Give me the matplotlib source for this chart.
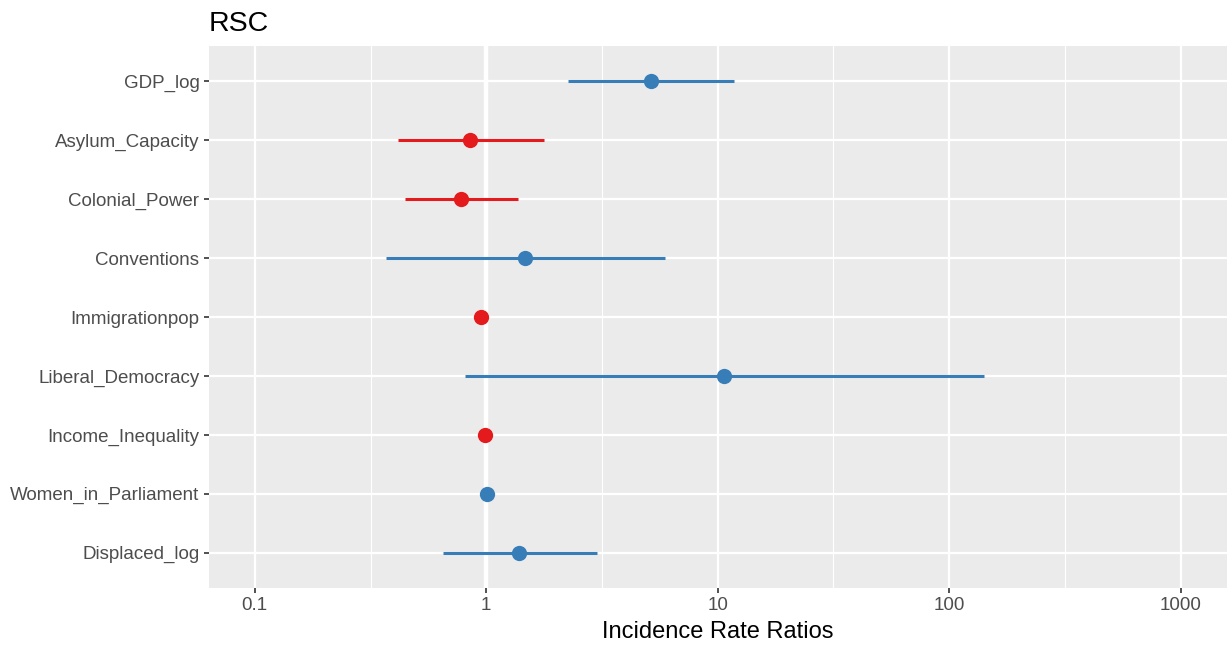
import numpy as np
import matplotlib.pyplot as plt
from matplotlib.ticker import FixedLocator, NullFormatter

# Estimates (incidence rate ratios) with 95% CI
terms = ["GDP_log", "Asylum_Capacity", "Colonial_Power", "Conventions",
         "Immigrationpop", "Liberal_Democracy", "Income_Inequality",
         "Women_in_Parliament", "Displaced_log"]
estimate = [5.17, 0.853, 0.78, 1.47, 0.95, 10.6, 0.99, 1.01, 1.39]
conf_low = [2.26, 0.417, 0.447, 0.37, 0.93, 0.81, 0.975, 0.995, 0.65]
conf_high = [11.8, 1.78, 1.37, 5.94, 0.97, 141.0, 1.005, 1.025, 3.02]

x_breaks = [0.1, 1, 10, 100, 1000]
x_labels = ["0.1", "1", "10", "100", "1000"]

BLUE = "#377EB8"
RED = "#E41A1C"
BG = "#EBEBEB"

plt.rcParams['font.family'] = ['Liberation Sans', 'DejaVu Sans']

fig = plt.figure(figsize=(12.27, 6.49), dpi=100)
W, H = 1227, 649
ax = fig.add_axes([208.5 / W, (H - 588) / H, (1227 - 208.5) / W, (588 - 46) / H])
ax.set_facecolor(BG)

ax.set_xscale("log")
ax.set_xlim(10 ** -1.2, 10 ** 3.2)
n = len(terms)
ypos = np.arange(n)[::-1]
ax.set_ylim(-0.6, n - 1 + 0.6)

# grid
ax.xaxis.set_major_locator(FixedLocator(x_breaks))
ax.xaxis.set_minor_locator(FixedLocator([10 ** (k + 0.5) for k in range(-1, 3)]))
ax.xaxis.set_minor_formatter(NullFormatter())
ax.set_xticklabels(x_labels)
ax.set_yticks(ypos)
ax.set_yticklabels(terms)
ax.grid(True, which="major", color="white", linewidth=1.6, zorder=0)
ax.grid(True, which="minor", axis="x", color="white", linewidth=0.8, zorder=0)
ax.set_axisbelow(True)
ax.axvline(1, color="white", linewidth=3.2, zorder=1)

for i in range(n):
    col = RED if estimate[i] < 1 else BLUE
    ax.plot([conf_low[i], conf_high[i]], [ypos[i], ypos[i]], color=col,
            linewidth=2.2, solid_capstyle="butt", zorder=3)
    ax.plot(estimate[i], ypos[i], "o", color=col, markersize=11,
            markeredgewidth=0, zorder=4)

for s in ax.spines.values():
    s.set_visible(False)

ax.tick_params(axis="both", which="major", length=3.5, width=1.2,
               color="#333333", labelcolor="#4D4D4D", labelsize=13.5, pad=3)
ax.tick_params(axis="x", which="minor", length=0)

ax.set_xlabel("Incidence Rate Ratios", fontsize=17, color="black", labelpad=5)
ax.set_title("RSC", fontsize=20.5, loc="left", pad=11, color="black")

fig.savefig("out.png", dpi=100)
